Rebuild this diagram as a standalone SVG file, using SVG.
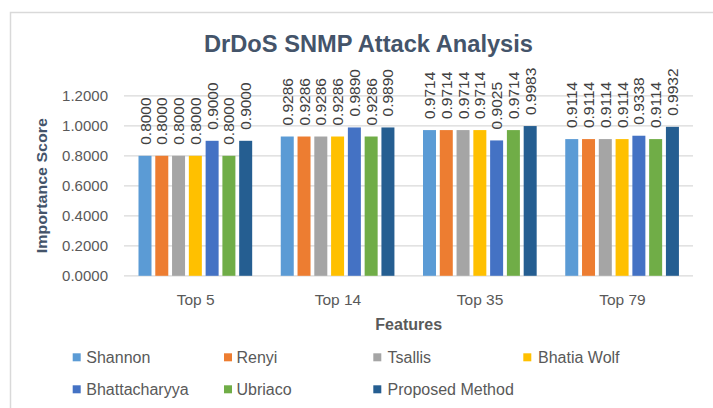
<svg xmlns="http://www.w3.org/2000/svg" width="713" height="408" viewBox="0 0 713 408">
<style>
.t{font-family:"Liberation Sans",Arial,sans-serif;}
.title{font-size:24px;font-weight:bold;fill:#44546A;}
.ytitle{font-size:15px;font-weight:bold;fill:#44546A;}
.xtitle{font-size:16px;font-weight:bold;fill:#595959;}
.tick{font-size:15px;fill:#595959;}
.cat{font-size:15.5px;fill:#595959;}
.lab{font-size:15.5px;fill:#404040;}
.leg{font-size:16px;fill:#595959;}
.grid{stroke:#d9d9d9;stroke-width:1.3;}
.s0{fill:#5B9BD5}.s1{fill:#ED7D31}.s2{fill:#A5A5A5}.s3{fill:#FFC000}.s4{fill:#4472C4}.s5{fill:#70AD47}.s6{fill:#255E91}
</style>
<rect x="0" y="0" width="713" height="408" fill="#ffffff"/>
<rect x="10.5" y="12.5" width="720" height="420" fill="none" stroke="#d9d9d9" stroke-width="1.5"/>
<text class="t title" x="368.5" y="52" text-anchor="middle" textLength="329" lengthAdjust="spacingAndGlyphs">DrDoS SNMP Attack Analysis</text>
<g id="axes">
<line class="grid" x1="124" y1="95.8" x2="693" y2="95.8"/>
<line class="grid" x1="124" y1="125.8" x2="693" y2="125.8"/>
<line class="grid" x1="124" y1="155.8" x2="693" y2="155.8"/>
<line class="grid" x1="124" y1="185.8" x2="693" y2="185.8"/>
<line class="grid" x1="124" y1="215.8" x2="693" y2="215.8"/>
<line class="grid" x1="124" y1="245.8" x2="693" y2="245.8"/>
<line class="grid" x1="124" y1="275.8" x2="693" y2="275.8"/>
<text class="t tick" x="108" y="101.1" text-anchor="end">1.2000</text>
<text class="t tick" x="108" y="131.1" text-anchor="end">1.0000</text>
<text class="t tick" x="108" y="161.1" text-anchor="end">0.8000</text>
<text class="t tick" x="108" y="191.1" text-anchor="end">0.6000</text>
<text class="t tick" x="108" y="221.1" text-anchor="end">0.4000</text>
<text class="t tick" x="108" y="251.1" text-anchor="end">0.2000</text>
<text class="t tick" x="108" y="281.1" text-anchor="end">0.0000</text>
<text class="t ytitle" transform="translate(46.5,185.7) rotate(-90)" text-anchor="middle" textLength="135" lengthAdjust="spacingAndGlyphs">Importance Score</text>
<text class="t cat" x="195.6" y="304.5" text-anchor="middle">Top 5</text>
<text class="t cat" x="337.9" y="304.5" text-anchor="middle">Top 14</text>
<text class="t cat" x="480.1" y="304.5" text-anchor="middle">Top 35</text>
<text class="t cat" x="622.4" y="304.5" text-anchor="middle">Top 79</text>
<text class="t xtitle" x="408.7" y="329.5" text-anchor="middle">Features</text>
</g>
<g id="group-top5">
<rect class="s0" x="138.5" y="155.8" width="13" height="120"/>
<rect class="s1" x="155.28" y="155.8" width="13" height="120"/>
<rect class="s2" x="172.06" y="155.8" width="13" height="120"/>
<rect class="s3" x="188.84" y="155.8" width="13" height="120"/>
<rect class="s4" x="205.62" y="140.8" width="13" height="135"/>
<rect class="s5" x="222.4" y="155.8" width="13" height="120"/>
<rect class="s6" x="239.18" y="140.8" width="13" height="135"/>
<text class="t lab" transform="translate(150.5,144.8) rotate(-90)">0.8000</text>
<text class="t lab" transform="translate(167.28,144.8) rotate(-90)">0.8000</text>
<text class="t lab" transform="translate(184.06,144.8) rotate(-90)">0.8000</text>
<text class="t lab" transform="translate(200.84,144.8) rotate(-90)">0.8000</text>
<text class="t lab" transform="translate(217.62,129.8) rotate(-90)">0.9000</text>
<text class="t lab" transform="translate(234.4,144.8) rotate(-90)">0.8000</text>
<text class="t lab" transform="translate(251.18,129.8) rotate(-90)">0.9000</text>
</g>
<g id="group-top14">
<rect class="s0" x="280.75" y="136.51" width="13" height="139.29"/>
<rect class="s1" x="297.53" y="136.51" width="13" height="139.29"/>
<rect class="s2" x="314.31" y="136.51" width="13" height="139.29"/>
<rect class="s3" x="331.09" y="136.51" width="13" height="139.29"/>
<rect class="s4" x="347.87" y="127.45" width="13" height="148.35"/>
<rect class="s5" x="364.65" y="136.51" width="13" height="139.29"/>
<rect class="s6" x="381.43" y="127.45" width="13" height="148.35"/>
<text class="t lab" transform="translate(292.75,125.5) rotate(-90)">0.9286</text>
<text class="t lab" transform="translate(309.53,125.5) rotate(-90)">0.9286</text>
<text class="t lab" transform="translate(326.31,125.5) rotate(-90)">0.9286</text>
<text class="t lab" transform="translate(343.09,125.5) rotate(-90)">0.9286</text>
<text class="t lab" transform="translate(359.87,116.45) rotate(-90)">0.9890</text>
<text class="t lab" transform="translate(376.65,125.5) rotate(-90)">0.9286</text>
<text class="t lab" transform="translate(393.43,116.45) rotate(-90)">0.9890</text>
</g>
<g id="group-top35">
<rect class="s0" x="423" y="130.09" width="13" height="145.71"/>
<rect class="s1" x="439.78" y="130.09" width="13" height="145.71"/>
<rect class="s2" x="456.56" y="130.09" width="13" height="145.71"/>
<rect class="s3" x="473.34" y="130.09" width="13" height="145.71"/>
<rect class="s4" x="490.12" y="140.43" width="13" height="135.37"/>
<rect class="s5" x="506.9" y="130.09" width="13" height="145.71"/>
<rect class="s6" x="523.68" y="126.06" width="13" height="149.74"/>
<text class="t lab" transform="translate(435,119.1) rotate(-90)">0.9714</text>
<text class="t lab" transform="translate(451.78,119.1) rotate(-90)">0.9714</text>
<text class="t lab" transform="translate(468.56,119.1) rotate(-90)">0.9714</text>
<text class="t lab" transform="translate(485.34,119.1) rotate(-90)">0.9714</text>
<text class="t lab" transform="translate(502.12,129.4) rotate(-90)">0.9025</text>
<text class="t lab" transform="translate(518.9,119.1) rotate(-90)">0.9714</text>
<text class="t lab" transform="translate(535.68,115.06) rotate(-90)">0.9983</text>
</g>
<g id="group-top79">
<rect class="s0" x="565.25" y="139.09" width="13" height="136.71"/>
<rect class="s1" x="582.03" y="139.09" width="13" height="136.71"/>
<rect class="s2" x="598.81" y="139.09" width="13" height="136.71"/>
<rect class="s3" x="615.59" y="139.09" width="13" height="136.71"/>
<rect class="s4" x="632.37" y="135.73" width="13" height="140.07"/>
<rect class="s5" x="649.15" y="139.09" width="13" height="136.71"/>
<rect class="s6" x="665.93" y="126.82" width="13" height="148.98"/>
<text class="t lab" transform="translate(577.25,128.1) rotate(-90)">0.9114</text>
<text class="t lab" transform="translate(594.03,128.1) rotate(-90)">0.9114</text>
<text class="t lab" transform="translate(610.81,128.1) rotate(-90)">0.9114</text>
<text class="t lab" transform="translate(627.59,128.1) rotate(-90)">0.9114</text>
<text class="t lab" transform="translate(644.37,124.73) rotate(-90)">0.9338</text>
<text class="t lab" transform="translate(661.15,128.1) rotate(-90)">0.9114</text>
<text class="t lab" transform="translate(677.93,115.82) rotate(-90)">0.9932</text>
</g>
<g id="legend">
<rect class="s0" x="72.7" y="353.3" width="8" height="8"/>
<text class="t leg" x="86.3" y="363">Shannon</text>
<rect class="s1" x="224" y="353.3" width="8" height="8"/>
<text class="t leg" x="236.5" y="363">Renyi</text>
<rect class="s2" x="373.3" y="353.3" width="8" height="8"/>
<text class="t leg" x="387.5" y="363">Tsallis</text>
<rect class="s3" x="523.3" y="353.3" width="8" height="8"/>
<text class="t leg" x="538" y="363">Bhatia Wolf</text>
<rect class="s4" x="72.7" y="385.3" width="8" height="8"/>
<text class="t leg" x="86.3" y="394.5">Bhattacharyya</text>
<rect class="s5" x="224" y="385.3" width="8" height="8"/>
<text class="t leg" x="236.5" y="394.5">Ubriaco</text>
<rect class="s6" x="373.3" y="385.3" width="8" height="8"/>
<text class="t leg" x="387.5" y="394.5">Proposed Method</text>
</g>
</svg>
